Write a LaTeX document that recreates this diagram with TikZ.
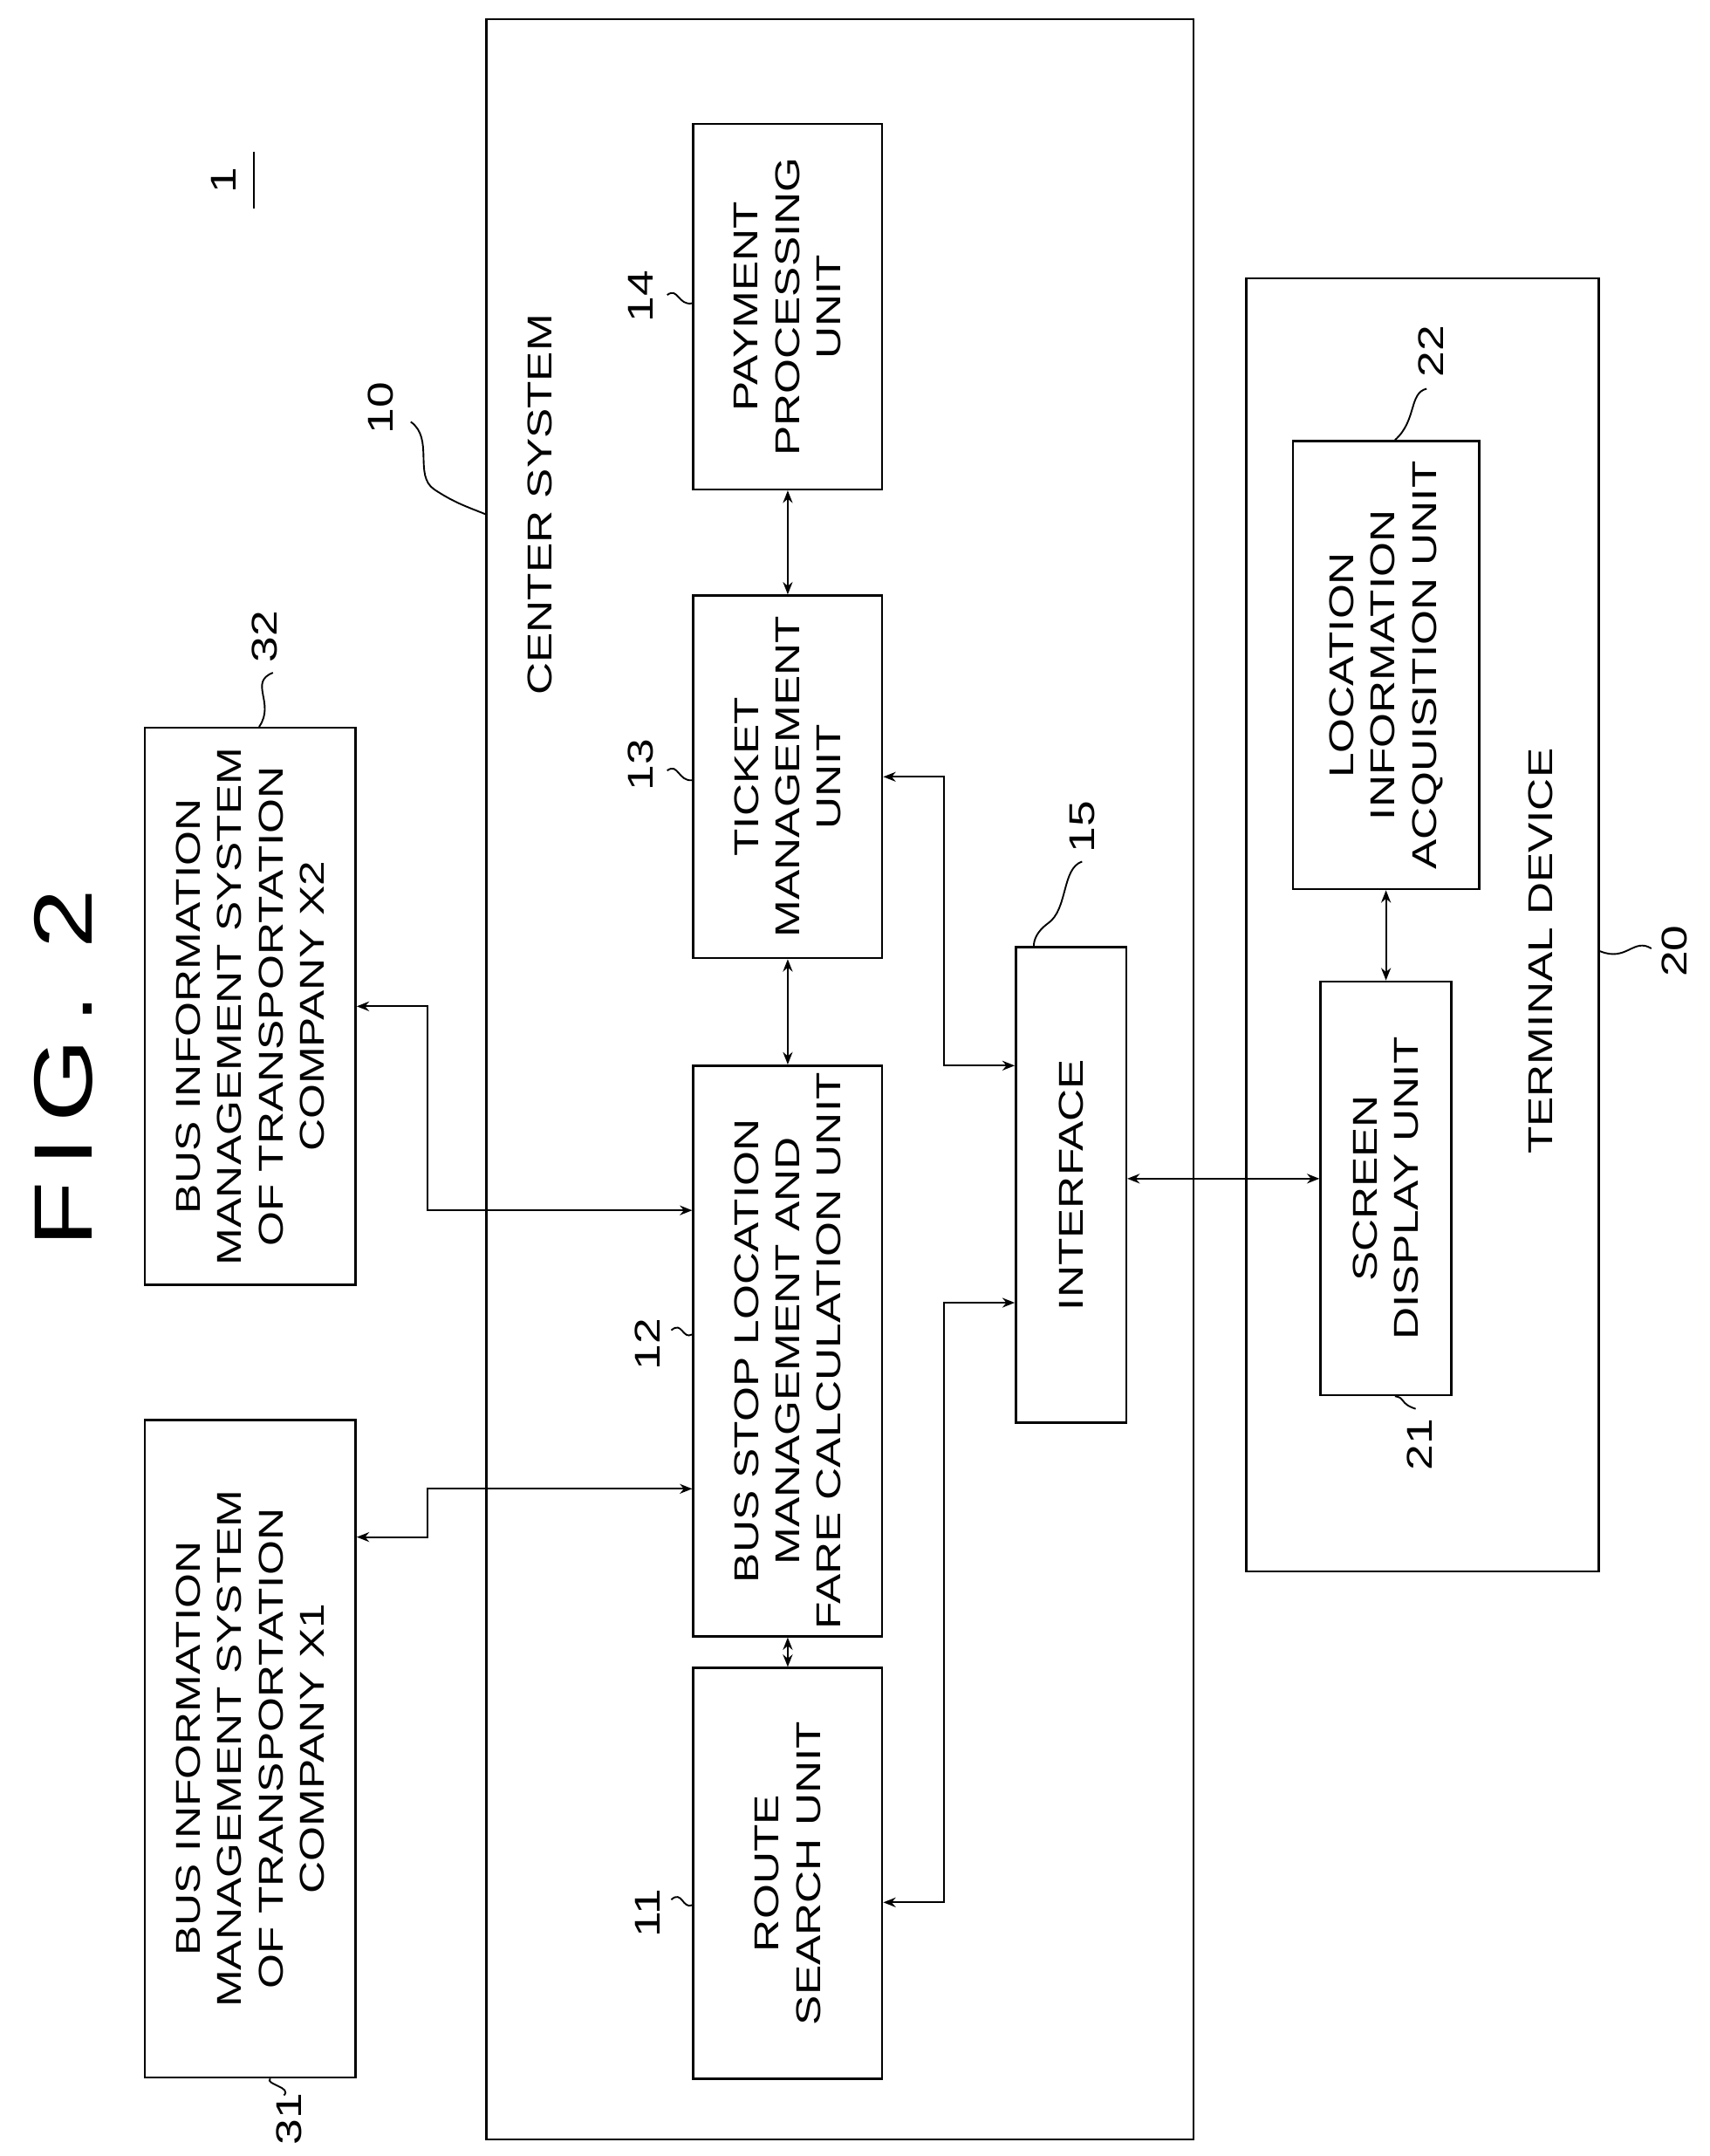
\documentclass[tikz,border=0pt]{standalone}
\usepackage{fontspec}
\setmainfont{Liberation Sans}[FakeStretch=1.3]
\usetikzlibrary{arrows.meta}
\begin{document}
\begin{tikzpicture}[x=1pt,y=-1pt,
  box/.style={draw,line width=1.6pt,inner sep=0pt},
  txt/.style={rotate=90,align=center,font=\fontsize{25}{30}\selectfont,inner sep=0pt},
  num/.style={rotate=90,font=\fontsize{26}{30}\selectfont,inner sep=0pt},
  arr/.style={line width=1.4pt,{Stealth[length=9pt,width=7pt]}-{Stealth[length=9pt,width=7pt]}},
  lead/.style={line width=1.2pt}]
\useasboundingbox (0,0) rectangle (1240,1564);
% frames
\node[box,minimum width=513pt,minimum height=1538pt] (cs) at (609.5,783) {};
\node[box,minimum width=256pt,minimum height=938pt] (td) at (1032,671) {};
% boxes
\node[box,minimum width=153pt,minimum height=477pt] (b31) at (181.5,1268.5) {};
\node[txt] at (b31) {BUS INFORMATION\\MANAGEMENT SYSTEM\\OF TRANSPORTATION\\COMPANY X1};
\node[box,minimum width=153pt,minimum height=404pt] (b32) at (181.5,730) {};
\node[txt] at (b32) {BUS INFORMATION\\MANAGEMENT SYSTEM\\OF TRANSPORTATION\\COMPANY X2};
\node[box,minimum width=137pt,minimum height=298pt] (b11) at (571.5,1359) {};
\node[txt] at (b11) {ROUTE\\SEARCH UNIT};
\node[box,minimum width=137pt,minimum height=414pt] (b12) at (571.5,980) {};
\node[txt] at (b12) {BUS STOP LOCATION\\MANAGEMENT AND\\FARE CALCULATION UNIT};
\node[box,minimum width=137pt,minimum height=263pt] (b13) at (571.5,563.5) {};
\node[txt] at (b13) {TICKET\\MANAGEMENT\\UNIT};
\node[box,minimum width=137pt,minimum height=265pt] (b14) at (571.5,222.5) {};
\node[txt] at (b14) {PAYMENT\\PROCESSING\\UNIT};
\node[box,minimum width=80pt,minimum height=345pt] (b15) at (777,859.5) {};
\node[txt] at (b15) {INTERFACE};
\node[box,minimum width=95pt,minimum height=300pt] (b21) at (1005.5,862) {};
\node[txt] at (b21) {SCREEN\\DISPLAY UNIT};
\node[box,minimum width=135pt,minimum height=325pt] (b22) at (1005.5,482.5) {};
\node[txt] at (b22) {LOCATION\\INFORMATION\\ACQUISITION UNIT};
% titles
\node[rotate=90,font=\fontsize{60}{66}\selectfont\addfontfeature{LetterSpace=18},inner sep=0pt] (fig) at (46,775) {FIG. 2};
\node[txt] (tcs) at (392,366) {CENTER SYSTEM};
\node[txt] (ttd) at (1118,690) {TERMINAL DEVICE};
% connector coordinates
\coordinate (y1115) at (0,1115);
\coordinate (y1080) at (0,1080);
\coordinate (y730) at (0,730);
\coordinate (y878) at (0,878);
\coordinate (y773) at (0,773);
\coordinate (y945) at (0,945);
\coordinate (y1380) at (0,1380);
\coordinate (y855) at (0,855);
\coordinate (x310) at (310,0);
\coordinate (x685) at (685,0);
\draw[arr] (b31.east|-y1115) -- (x310|-y1115) -- (x310|-y1080) -- (b12.west|-y1080);
\draw[arr] (b32.east|-y730) -- (x310|-y730) -- (x310|-y878) -- (b12.west|-y878);
\draw[arr] (b12.south) -- (b11.north);
\draw[arr] (b13.south) -- (b12.north);
\draw[arr] (b14.south) -- (b13.north);
\draw[arr] (b13.east) -- (x685|-b13.east) -- (x685|-y773) -- (b15.west|-y773);
\draw[arr] (b11.east|-y1380) -- (x685|-y1380) -- (x685|-y945) -- (b15.west|-y945);
\draw[arr] (b15.east|-y855) -- (b21.west|-y855);
\draw[arr] (b21.north) -- (b22.south);
% reference numerals
\node[num] (n1) at (162,131) {1};
\coordinate (u1a) at (184,110); \coordinate (u1b) at (184,151);
\draw[line width=1.4pt] (u1a) -- (u1b);
\node[num] (n10) at (276,296) {10};
\coordinate (l10) at (298,306);
\draw[lead] (l10) .. controls (315,318) and (300,345) .. (315,355) .. controls (330,365) and (340,368) .. (cs.west|-{(0,373)});
\node[num] (n32) at (192,462) {32};
\coordinate (l32) at (198,488);
\draw[lead] (l32) .. controls (180,495) and (200,510) .. (b32.north-|{(188,0)});
\node[num] (n31) at (210,1537) {31};
\coordinate (l31) at (206,1520);
\draw[lead] (l31) .. controls (212,1514) and (192,1512) .. (b31.south-|{(196,0)});
\node[num] (n14) at (465,215) {14};
\coordinate (l14) at (484,214);
\draw[lead] (l14) .. controls (492,208) and (492,222) .. (b14.west|-{(0,220)});
\node[num] (n13) at (465,555) {13};
\coordinate (l13) at (484,559);
\draw[lead] (l13) .. controls (492,553) and (492,567) .. (b13.west|-{(0,566)});
\node[num] (n12) at (470,975) {12};
\coordinate (l12) at (487,965);
\draw[lead] (l12) .. controls (495,958) and (495,972) .. (b12.west|-{(0,968)});
\node[num] (n11) at (470,1388) {11};
\coordinate (l11) at (487,1378);
\draw[lead] (l11) .. controls (495,1371) and (495,1385) .. (b11.west|-{(0,1382)});
\node[num] (n15) at (785,600) {15};
\coordinate (l15) at (785,625);
\draw[lead] (l15) .. controls (770,630) and (775,660) .. (760,670) .. controls (752,676) and (750,682) .. (b15.north-|{(750,0)});
\node[num] (n22) at (1038,255) {22};
\coordinate (l22) at (1035,282);
\draw[lead] (l22) .. controls (1022,285) and (1028,305) .. (b22.north-|{(1012,0)});
\node[num] (n21) at (1030,1048) {21};
\coordinate (l21) at (1027,1022);
\draw[lead] (l21) .. controls (1015,1018) and (1020,1014) .. (b21.south-|{(1012,0)});
\node[num] (n20) at (1215,690) {20};
\coordinate (l20) at (1198,688);
\draw[lead] (l20) .. controls (1185,680) and (1180,698) .. (td.east|-{(0,690)});
\end{tikzpicture}
\end{document}
